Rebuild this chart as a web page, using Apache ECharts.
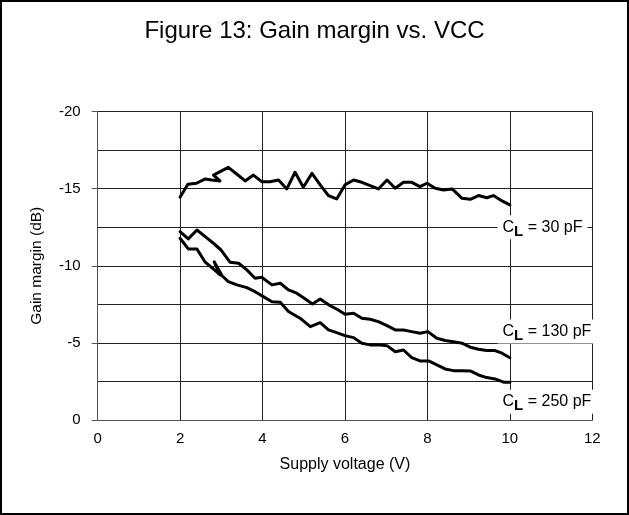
<!DOCTYPE html>
<html>
<head>
<meta charset="utf-8">
<script src="https://cdn.jsdelivr.net/npm/echarts@6/dist/echarts.min.js"></script>
<style>
html,body{margin:0;padding:0;background:#fff;}
#chart{width:629px;height:515px;}
</style>
</head>
<body>
<div id="chart"></div>
<script>
// ---- data ----
const xTicks = [0, 2, 4, 6, 8, 10, 12];
const yTicks = [-20, -15, -10, -5, 0];

const volt30 = [2.0, 2.19, 2.40, 2.61, 2.77, 2.97, 2.81, 3.17, 3.38, 3.58, 3.78, 3.98, 4.18, 4.39, 4.59, 4.79, 4.99, 5.2, 5.4, 5.6, 5.8, 6.0, 6.21, 6.41, 6.61, 6.81, 7.02, 7.22, 7.42, 7.62, 7.82, 7.99, 8.19, 8.39, 8.6, 8.84, 9.04, 9.24, 9.44, 9.6, 9.81, 10.0];
const gain30 = [-14.44, -15.28, -15.35, -15.63, -15.56, -15.5, -15.88, -16.38, -15.93, -15.5, -15.88, -15.45, -15.45, -15.56, -14.98, -16.06, -15.09, -15.99, -15.24, -14.55, -14.33, -15.24, -15.56, -15.41, -15.19, -14.98, -15.56, -15.02, -15.41, -15.41, -15.13, -15.35, -15.02, -14.91, -14.98, -14.37, -14.31, -14.55, -14.41, -14.55, -14.2, -13.95];

const volt130 = [2.0, 2.2, 2.41, 2.61, 2.81, 2.99, 2.85, 3.0, 3.21, 3.42, 3.62, 3.82, 3.98, 4.23, 4.43, 4.63, 4.83, 5.04, 5.21, 5.40, 5.64, 5.84, 6.0, 6.21, 6.41, 6.61, 6.81, 7.02, 7.22, 7.42, 7.62, 7.82, 8.01, 8.23, 8.43, 8.63, 8.84, 9.04, 9.24, 9.44, 9.64, 9.81, 10.0];
const gain130 = [-12.21, -11.74, -12.32, -11.89, -11.46, -11.05, -11.35, -11.0, -10.23, -10.16, -9.73, -9.19, -9.25, -8.76, -8.87, -8.43, -8.22, -7.85, -7.52, -7.85, -7.41, -7.13, -6.85, -6.92, -6.6, -6.53, -6.38, -6.12, -5.84, -5.84, -5.73, -5.63, -5.73, -5.3, -5.15, -5.08, -4.98, -4.72, -4.59, -4.5, -4.5, -4.33, -4.04];

const volt250 = [2.0, 2.2, 2.41, 2.61, 2.81, 2.97, 2.83, 3.02, 3.17, 3.38, 3.62, 3.82, 4.02, 4.23, 4.43, 4.63, 4.91, 5.16, 5.40, 5.6, 5.8, 6.0, 6.21, 6.41, 6.61, 6.81, 7.02, 7.22, 7.42, 7.62, 7.82, 8.03, 8.23, 8.43, 8.63, 8.84, 9.04, 9.24, 9.44, 9.64, 9.85, 10.0];
const gain250 = [-11.78, -11.09, -11.09, -10.23, -9.79, -9.4, -10.25, -9.35, -8.97, -8.76, -8.58, -8.32, -8.0, -7.67, -7.63, -7.03, -6.6, -6.05, -6.31, -5.84, -5.66, -5.47, -5.34, -4.98, -4.87, -4.87, -4.82, -4.43, -4.54, -4.04, -3.83, -3.83, -3.57, -3.31, -3.2, -3.2, -3.18, -2.92, -2.75, -2.66, -2.45, -2.45];

const seriesNames = ['30 pF', '130 pF', '250 pF'];
// anchor (data coords) of each curve's annotation
const labelAnchors = [[9.69, -12.5], [9.69, -5.73], [9.69, -1.19]];

// ---- build ----
const FONT = 'Liberation Sans, Arial, sans-serif';
function zip(xs, ys) { return xs.map((x, i) => [x, ys[i]]); }
const datasets = [zip(volt30, gain30), zip(volt130, gain130), zip(volt250, gain250)];

const rich = {
  c: { fontFamily: FONT, fontSize: 16, color: '#000', lineHeight: 20 },
  l: { fontFamily: FONT, fontSize: 15, fontWeight: 'bold', color: '#000', lineHeight: 20, padding: [9, 0, 0, 0] }
};

const series = datasets.map((d, i) => ({
  name: seriesNames[i],
  type: 'line',
  data: d,
  showSymbol: false,
  symbol: 'none',
  smooth: false,
  lineStyle: { color: '#000', width: 3, join: 'round', cap: 'round' },
  markPoint: {
    symbol: 'circle',
    symbolSize: 1,
    itemStyle: { color: 'rgba(0,0,0,0)' },
    animation: false,
    data: [{ coord: labelAnchors[i] }],
    label: {
      show: true,
      position: 'right',
      distance: 0,
      formatter: '{c|C}{l|L}{c| = ' + seriesNames[i] + '}',
      backgroundColor: '#fff',
      padding: [2, 5, 2, 5],
      rich: rich
    }
  }
}));

const chart = echarts.init(document.getElementById('chart'), null, { renderer: 'canvas' });
chart.setOption({
  animation: false,
  backgroundColor: '#fff',
  title: {
    text: 'Figure 13: Gain margin vs. VCC',
    left: 'center',
    top: 14,
    textStyle: { fontFamily: FONT, fontSize: 24, fontWeight: 'normal', color: '#000' }
  },
  grid: { left: 97.6, right: 36.7, top: 111.5, bottom: 95, containLabel: false },
  xAxis: {
    type: 'value',
    min: xTicks[0],
    max: xTicks[xTicks.length - 1],
    interval: 2,
    name: 'Supply voltage (V)',
    nameLocation: 'middle',
    nameGap: 37,
    nameTextStyle: { fontFamily: FONT, fontSize: 16, color: '#000' },
    axisLine: { show: true, onZero: false, lineStyle: { color: '#555', width: 1 } },
    axisTick: { show: false },
    axisLabel: { fontFamily: FONT, fontSize: 15, color: '#000', margin: 11 },
    splitLine: { show: true, lineStyle: { color: '#222', width: 1 } }
  },
  yAxis: {
    type: 'value',
    inverse: true,
    min: yTicks[0],
    max: yTicks[yTicks.length - 1],
    interval: 5,
    name: 'Gain margin (dB)',
    nameLocation: 'middle',
    nameGap: 53,
    nameTextStyle: { fontFamily: FONT, fontSize: 15.5, color: '#000' },
    axisLine: { show: true, onZero: false, lineStyle: { color: '#555', width: 1 } },
    axisTick: { show: true, inside: false, length: 6, lineStyle: { color: '#555' } },
    axisLabel: { fontFamily: FONT, fontSize: 15, color: '#000', margin: 17 },
    splitLine: { show: true, lineStyle: { color: '#222', width: 1 } },
    minorTick: { show: false, splitNumber: 2 },
    minorSplitLine: { show: true, lineStyle: { color: '#222', width: 1 } }
  },
  graphic: [{
    type: 'rect',
    silent: true,
    z: 100,
    shape: { x: 1, y: 1, width: 627, height: 513 },
    style: { fill: null, stroke: '#000', lineWidth: 2 }
  }],
  series: series
});
</script>
</body>
</html>
